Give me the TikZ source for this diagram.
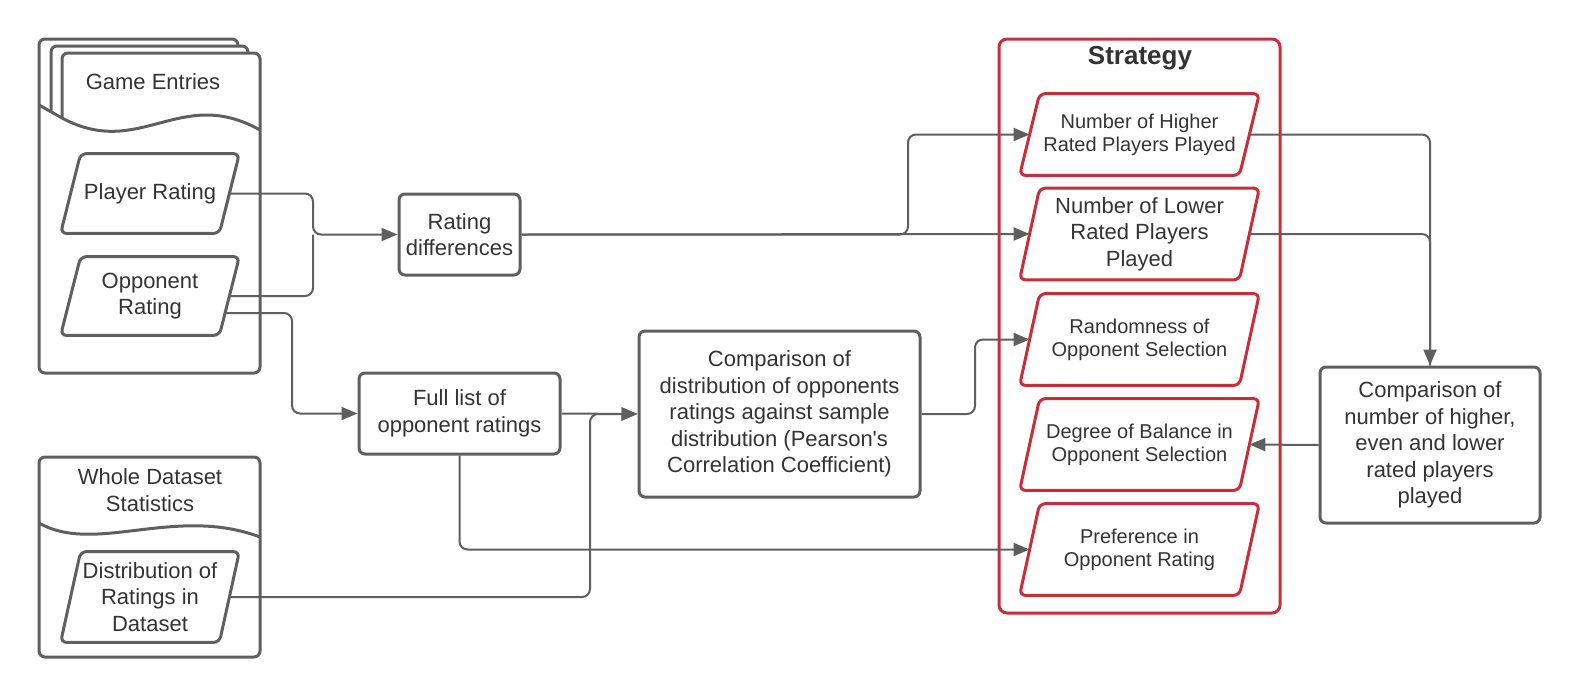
\documentclass[tikz,border=0pt]{standalone}
\usepackage{fontspec}
\setmainfont{Liberation Sans}
\usetikzlibrary{arrows.meta}

\definecolor{linegray}{RGB}{95,95,95}
\definecolor{txtgray}{RGB}{51,51,51}
\definecolor{stratred}{RGB}{201,45,57}

\tikzset{
	box/.style={draw=linegray, line width=1.5pt, rounded corners=3pt, text=txtgray, align=center, inner sep=1pt, font=\fontsize{11}{13.3}\selectfont},
	para/.style={rectangle, text=txtgray, align=center, inner sep=1pt, font=\fontsize{11}{13.3}\selectfont,
		append after command={\pgfextra{\let\pn\tikzlastnode
			\draw[draw=#1, line width=1.5pt, rounded corners=3pt] ([xshift=5pt]\pn.north west) -- ([xshift=5pt]\pn.north east) -- ([xshift=-5pt]\pn.south east) -- ([xshift=-5pt]\pn.south west) -- cycle;}}},
	para/.default=linegray,
	redpara/.style={para=stratred, minimum width=109.5pt, minimum height=45.5pt},
	small/.style={font=\fontsize{10}{11.6}\selectfont},
	link/.style={draw=linegray, line width=1pt, rounded corners=4pt},
	arrow/.style={link, -{Triangle[length=8pt,width=6.5pt]}},
	doc/.style={draw=linegray, line width=1.5pt, rounded corners=3pt},
}

\begin{document}
\begin{tikzpicture}[x=0.5pt, y=-0.5pt]
	\useasboundingbox (0,0) rectangle (1580,697);

	% game entries stack
	\draw[doc] (39,105) -- (39,39) -- (238,39) -- (238,46);
	\draw[doc] (51,112) -- (51,46) -- (248,46) -- (248,53);
	\draw[doc] (62,118) -- (62,53) -- (260,53) -- (260,373) -- (39,373) -- (39,105);
	\draw[doc, rounded corners=0pt] (39,105) -- (62,118) .. controls (140,160) and (180,85) .. (260,130);
	\node[text=txtgray, font=\fontsize{11}{13.3}\selectfont] (gametitle) at (153,82) {Game Entries};

	% whole dataset
	\draw[doc] (39,457) rectangle (260,657);
	\draw[doc, rounded corners=0pt] (39,523) .. controls (95,555) and (175,505) .. (260,537);
	\node[text=txtgray, align=center, font=\fontsize{11}{13.3}\selectfont] (wholetitle) at (150,490) {Whole Dataset\\Statistics};

	\node[para, minimum width=79pt, minimum height=39.5pt] (prating) at (150,193.5) {Player Rating};
	\node[para, minimum width=79pt, minimum height=39pt] (orating) at (150,296) {Opponent\\Rating};
	\node[para, minimum width=79pt, minimum height=45pt] (dist) at (150,597) {Distribution of\\Ratings in\\Dataset};

	\node[box, minimum width=60.5pt, minimum height=40.5pt] (ratediff) at (459.5,234.5) {Rating\\differences};
	\node[box, minimum width=100.5pt, minimum height=40.5pt] (fulllist) at (459.5,413.5) {Full list of\\opponent ratings};
	\node[box, minimum width=140.5pt, minimum height=83pt] (distcomp) at (779.5,414) {Comparison of\\distribution of opponents\\ratings against sample\\distribution (Pearson\textquotesingle s\\Correlation Coefficient)};

	% strategy
	\draw[draw=stratred, line width=1.5pt, rounded corners=4pt] (999,39) rectangle (1280,613);
	\node[text=txtgray, font=\fontsize{13}{15}\selectfont\bfseries] (strattitle) at (1140,58) {Strategy};
	\node[redpara, small, minimum height=40.5pt] (higher) at (1139.5,134.5) {Number of Higher\\Rated Players Played};
	\node[redpara] (lower) at (1139.5,234) {Number of Lower\\Rated Players\\Played};
	\node[redpara, small] (random) at (1139.5,339.5) {Randomness of\\Opponent Selection};
	\node[redpara, small] (balance) at (1139.5,444.5) {Degree of Balance in\\Opponent Selection};
	\node[redpara, small] (pref) at (1139.5,549.5) {Preference in\\Opponent Rating};

	\node[box, minimum width=110pt, minimum height=78pt] (countcomp) at (1430,445) {Comparison of\\number of higher,\\even and lower\\rated players\\played};

	\coordinate (j1) at (313,234.5);
	\coordinate (j2) at (292,413.5);
	\coordinate (j3) at (590,414);
	\coordinate (j4) at (908,234.5);
	\coordinate (j5) at (975,414);

	\draw[arrow] (prating.east) -| (j1) -- (ratediff.west);
	\draw[link] (orating.east) -| (j1);
	\draw[arrow] ([xshift=-2pt,yshift=-8.5pt]orating.east) -| (j2) -- (fulllist.west);
	\draw[arrow] (fulllist.east) -- (distcomp.west);
	\draw[arrow] (dist.east) -| (j3) -- (distcomp.west);
	\draw[arrow] (ratediff.east) -- (lower.west);
	\draw[arrow] (ratediff.east) -- (j4) |- (higher.west);
	\draw[arrow] (distcomp.east) -- (j5) |- (random.west);
	\draw[arrow] (fulllist.south) |- (pref.west);
	\draw[arrow] (higher.east) -| (countcomp.north);
	\draw[link] (lower.east) -| (countcomp.north);
	\draw[arrow] (countcomp.west) -- (balance.east);
\end{tikzpicture}
\end{document}
